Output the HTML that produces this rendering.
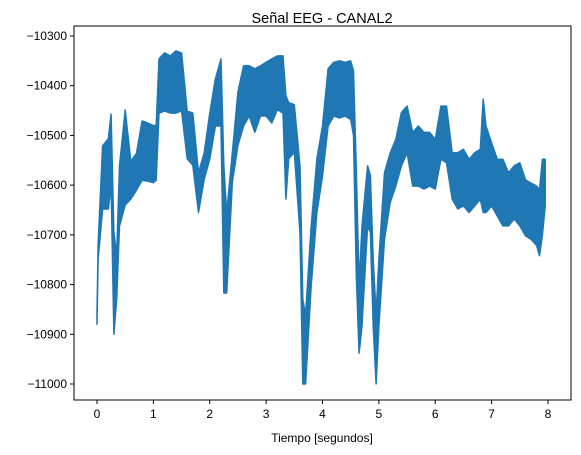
<!DOCTYPE html>
<html><head><meta charset="utf-8"><style>
body{margin:0;background:#fff}
svg{display:block;font-family:"Liberation Sans",sans-serif}
</style></head><body>
<svg id="chart" width="581" height="455" viewBox="0 0 581 455">
<rect width="581" height="455" fill="#fff"/>
<text x="322" y="23" font-size="14.5" text-anchor="middle">Señal EEG - CANAL2</text>
<g id="plot"></g>
<g id="axes"></g>
<text x="322" y="442" font-size="12" text-anchor="middle">Tiempo [segundos]</text>
</svg>
<script>
const times=[0,0.02,0.1,0.2,0.25,0.3,0.35,0.4,0.5,0.6,0.7,0.8,0.9,1.0,1.05,1.1,1.2,1.3,1.4,1.5,1.6,1.7,1.8,1.9,2.0,2.1,2.2,2.25,2.3,2.4,2.5,2.6,2.7,2.8,2.9,3.0,3.1,3.2,3.3,3.35,3.4,3.5,3.6,3.65,3.7,3.8,3.9,4.0,4.1,4.2,4.3,4.4,4.5,4.55,4.6,4.65,4.7,4.8,4.85,4.9,4.95,5.0,5.1,5.2,5.3,5.4,5.5,5.6,5.7,5.8,5.9,6.0,6.1,6.2,6.3,6.4,6.5,6.6,6.7,6.8,6.85,6.9,7.0,7.1,7.2,7.3,7.4,7.5,7.6,7.7,7.8,7.85,7.9,7.95];
const upper=[-10860,-10720,-10521,-10507,-10457,-10696,-10740,-10561,-10449,-10552,-10536,-10471,-10475,-10480,-10480,-10346,-10334,-10340,-10330,-10334,-10451,-10455,-10575,-10536,-10455,-10386,-10346,-10560,-10656,-10536,-10413,-10360,-10360,-10366,-10360,-10353,-10346,-10340,-10340,-10420,-10434,-10438,-10561,-10830,-10861,-10682,-10547,-10481,-10366,-10353,-10350,-10353,-10350,-10370,-10568,-10800,-10682,-10561,-10580,-10749,-10860,-10749,-10575,-10535,-10508,-10454,-10441,-10494,-10481,-10494,-10494,-10508,-10441,-10441,-10535,-10535,-10528,-10548,-10535,-10528,-10427,-10481,-10515,-10548,-10548,-10575,-10561,-10555,-10589,-10596,-10602,-10610,-10548,-10548];
const lower=[-10880,-10750,-10648,-10648,-10600,-10900,-10829,-10682,-10640,-10628,-10610,-10590,-10592,-10595,-10590,-10455,-10451,-10455,-10455,-10451,-10547,-10560,-10655,-10589,-10547,-10481,-10481,-10817,-10817,-10595,-10520,-10481,-10461,-10494,-10461,-10461,-10475,-10448,-10455,-10628,-10547,-10534,-10696,-11000,-11000,-10802,-10655,-10582,-10481,-10461,-10465,-10461,-10468,-10500,-10783,-10938,-10883,-10682,-10695,-10883,-11000,-10883,-10709,-10635,-10602,-10561,-10535,-10602,-10602,-10608,-10602,-10608,-10548,-10555,-10628,-10648,-10642,-10655,-10642,-10628,-10655,-10655,-10642,-10662,-10682,-10682,-10668,-10682,-10702,-10709,-10722,-10742,-10700,-10642];
const xTicks=[0,1,2,3,4,5,6,7,8];
const yTicks=[-10300,-10400,-10500,-10600,-10700,-10800,-10900,-11000];

const NS='http://www.w3.org/2000/svg';
const X0=74,X1=571,Y0=26,Y1=400;
function sx(t){return 97+t*(548-97)/8;}
function sy(v){return 36+(-10300-v)*(384-36)/700;}
const plot=document.getElementById('plot');
const axes=document.getElementById('axes');

// envelope band
let d='M'+times.map((t,i)=>sx(t).toFixed(1)+','+sy(upper[i]).toFixed(1)).join('L');
for(let i=times.length-1;i>=0;i--)d+='L'+sx(times[i]).toFixed(1)+','+sy(lower[i]).toFixed(1);
d+='Z';
const band=document.createElementNS(NS,'path');


band.setAttribute('d',d);
band.setAttribute('fill','#1f77b4');
band.setAttribute('stroke','#1f77b4');
band.setAttribute('stroke-width','1.5');
band.setAttribute('stroke-linejoin','round');
plot.appendChild(band);

// frame
const fr=document.createElementNS(NS,'rect');


fr.setAttribute('x',X0);fr.setAttribute('y',Y0);
fr.setAttribute('width',X1-X0);fr.setAttribute('height',Y1-Y0);
fr.setAttribute('fill','none');fr.setAttribute('stroke','#000');fr.setAttribute('stroke-width','1');
axes.appendChild(fr);

xTicks.forEach(t=>{
  const x=sx(t);
  const l=document.createElementNS(NS,'line');
  
  
  l.setAttribute('x1',x);l.setAttribute('x2',x);l.setAttribute('y1',Y1);l.setAttribute('y2',Y1+4);
  l.setAttribute('stroke','#000');
  axes.appendChild(l);
  const tx=document.createElementNS(NS,'text');
  
  
  tx.setAttribute('x',x);tx.setAttribute('y',Y1+18);
  tx.setAttribute('font-size','12');tx.setAttribute('text-anchor','middle');
  tx.textContent=t;
  axes.appendChild(tx);
});
yTicks.forEach(v=>{
  const y=sy(v);
  const l=document.createElementNS(NS,'line');
  
  
  l.setAttribute('x1',X0-4);l.setAttribute('x2',X0);l.setAttribute('y1',y);l.setAttribute('y2',y);
  l.setAttribute('stroke','#000');
  axes.appendChild(l);
  const tx=document.createElementNS(NS,'text');
  
  
  tx.setAttribute('x',X0-7);tx.setAttribute('y',y+4);
  tx.setAttribute('font-size','12');tx.setAttribute('text-anchor','end');
  tx.textContent='\u2212'+Math.abs(v);
  axes.appendChild(tx);
});
</script>
</body></html>
